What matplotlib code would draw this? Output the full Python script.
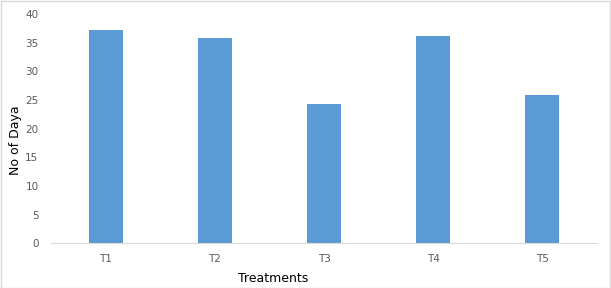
import matplotlib

matplotlib.use("Agg")
import matplotlib.pyplot as plt

treatments = ["T1", "T2", "T3", "T4", "T5"]
days = [37.2, 35.8, 24.3, 36.2, 25.9]
y_ticks = [0, 5, 10, 15, 20, 25, 30, 35, 40]

W, H = 611, 288
fig = plt.figure(figsize=(W / 100, H / 100), dpi=100)
ax = fig.add_axes([51 / W, 1 - 243.3 / H, (597 - 51) / W, (243.3 - 14) / H])

ax.bar(range(len(treatments)), days, width=0.31, color="#5b9bd5")
ax.set_xlim(-0.5, len(treatments) - 0.5)
ax.set_ylim(0, 40)
ax.set_yticks(y_ticks)
ax.set_xticks(range(len(treatments)))
ax.set_xticklabels(treatments)
ax.tick_params(axis="both", length=0, labelsize=7.5, labelcolor="#595959")
ax.tick_params(axis="y", pad=9)
ax.tick_params(axis="x", pad=8)
for s in ["top", "right", "left"]:
    ax.spines[s].set_visible(False)
ax.spines["bottom"].set_color("#d9d9d9")

fig.text(273 / W, 1 - 278 / H, "Treatments", ha="center", va="center", fontsize=9)
fig.text(16 / W, 1 - 140 / H, "No of Daya", ha="center", va="center", rotation=90, fontsize=9)

border = plt.Rectangle((0.5 / W, 0.5 / H), 1 - 1.5 / W, 1 - 1.5 / H, transform=fig.transFigure,
                       fill=False, edgecolor="#d9d9d9", linewidth=1)
fig.patches.append(border)

plt.savefig("out.png", dpi=100)
